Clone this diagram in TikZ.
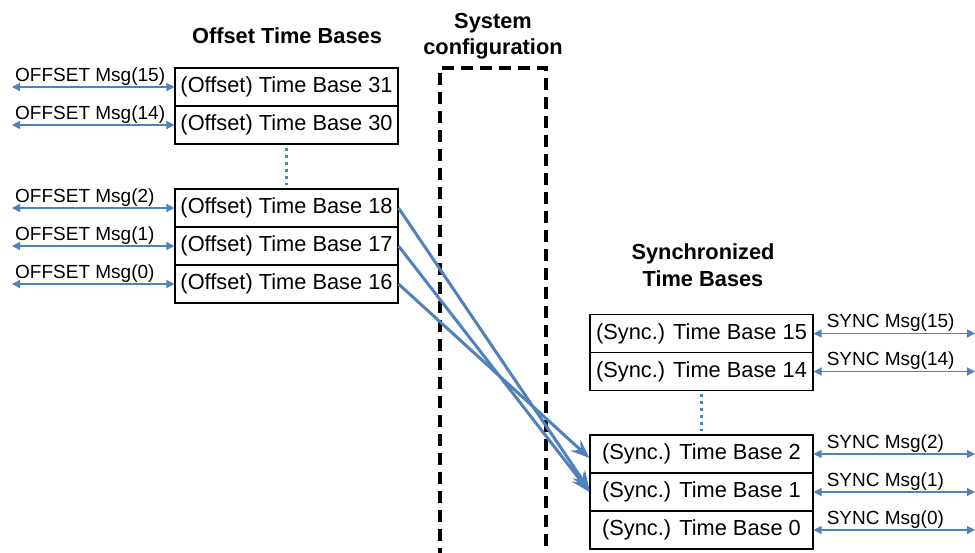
\documentclass[tikz,border=0pt]{standalone}
\usepackage{fontspec}
\setmainfont{Liberation Sans}
\usetikzlibrary{arrows.meta}
\definecolor{linkblue}{RGB}{79,129,189}
\begin{document}
\begin{tikzpicture}[x=1pt,y=-1pt,
  tb/.style={draw=black,line width=1.1pt,minimum width=223pt,minimum height=38pt,
    inner sep=0pt,font=\fontsize{21.8}{24}\selectfont},
  title/.style={font=\fontsize{21.8}{26.5}\selectfont\bfseries,align=center},
  msglabel/.style={anchor=base west,inner sep=0pt,font=\fontsize{19}{22}\selectfont},
  msg/.style={linkblue,line width=1.4pt,{Triangle[length=8pt,width=8pt]}-{Triangle[length=8pt,width=8pt]}},
  map/.style={linkblue,line width=3pt,-{Stealth[length=19pt,width=15pt,inset=7pt]}},
  gap/.style={linkblue,line width=3pt,dash pattern=on 3pt off 4pt},
  sysbox/.style={black,line width=3.2pt,dash pattern=on 12pt off 7pt}]
\useasboundingbox (0,0) rectangle (975,552);

% headings
\node[title] (offtitle) at (287,36) {Offset Time Bases};
\node[title] (systitle) at (493,36) {System\\configuration};
\node[title] (synctitle) at (703,265) {Synchronized\\Time Bases};

% system configuration boundary
\draw[sysbox] (440,560) -- (440,68) -- (546,68) -- (546,560);

% offset time bases
\node[tb] (o31) at (286.5,87) {(Offset) Time Base 31};
\node[tb] (o30) at (286.5,125) {(Offset) Time Base 30};
\node[tb] (o18) at (286.5,208) {(Offset) Time Base 18};
\node[tb] (o17) at (286.5,246) {(Offset) Time Base 17};
\node[tb] (o16) at (286.5,284) {(Offset) Time Base 16};
\draw[gap] (o30.south) ++(0,3) coordinate (og1) (o18.north) ++(0,-3) coordinate (og2);
\draw[gap] (og1) -- (og2);

% synchronized time bases
\node[tb] (s15) at (701.5,333.5) {(Sync.) Time Base 15};
\node[tb] (s14) at (701.5,371.5) {(Sync.) Time Base 14};
\node[tb] (s2) at (701.5,454) {(Sync.) Time Base 2};
\node[tb] (s1) at (701.5,492) {(Sync.) Time Base 1};
\node[tb] (s0) at (701.5,530) {(Sync.) Time Base 0};
\draw[gap] (s14.south) ++(0,3) coordinate (sg1) (s2.north) ++(0,-3) coordinate (sg2);
\draw[gap] (sg1) -- (sg2);

% offset messages
\foreach \b/\t in {o31/15,o30/14,o18/2,o17/1,o16/0}{
  \coordinate (l\b) at (12,0 |- \b.west);
  \draw[msg] (l\b) -- (\b.west);
  \node[msglabel] (t\b) at ([shift={(3,-6)}]l\b) {OFFSET Msg(\t)};
}

% sync messages
\foreach \b/\t in {s15/15,s14/14,s2/2,s1/1,s0/0}{
  \coordinate (r\b) at (975,0 |- \b.east);
  \draw[msg] (\b.east) -- (r\b);
  \node[msglabel] (t\b) at ([shift={(13,-6)}]\b.east) {SYNC Msg(\t)};
}

% mapping of offset time bases onto synchronized ones
\draw[map] (o16.east) -- ([yshift=-4pt]s2.west);
\draw[map] (o17.east) -- ([yshift=0pt]s1.west);
\draw[map] (o18.east) -- ([yshift=2pt]s1.west);
\end{tikzpicture}
\end{document}
